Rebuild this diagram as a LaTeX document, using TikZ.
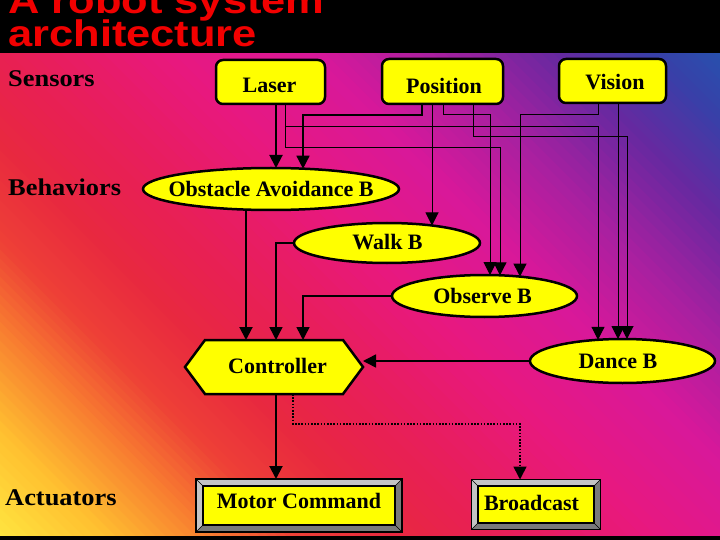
\documentclass[tikz,border=0pt]{standalone}
\usepackage{fontspec}
\usepackage{graphicx}
\setmainfont{Liberation Serif}
\newfontfamily\titlefamily{Liberation Sans}
\usetikzlibrary{arrows.meta,shapes.geometric}
\pgfdeclarelayer{background}
\pgfsetlayers{background,main}

\definecolor{g0}{HTML}{FFE640}
\definecolor{g1}{HTML}{FFC030}
\definecolor{g2}{HTML}{F88030}
\definecolor{g3}{HTML}{EE4036}
\definecolor{g4}{HTML}{E82840}
\definecolor{g5}{HTML}{E81E5A}
\definecolor{g6}{HTML}{E81880}
\definecolor{g7}{HTML}{D8189A}
\definecolor{g8}{HTML}{A820A0}
\definecolor{g9}{HTML}{6828A0}
\definecolor{g10}{HTML}{3840A8}
\definecolor{g11}{HTML}{2058B0}
\definecolor{boxyellow}{HTML}{FFFF00}
\definecolor{bevlight}{HTML}{C4C4C4}
\definecolor{bevdark}{HTML}{7A7A7A}
\definecolor{titlered}{HTML}{F20000}

\newcommand\nodefont{\bfseries\fontsize{22}{24}\selectfont}
\newcommand\ctext[3]{\raisebox{-#1pt}{\makebox[0pt]{\hspace*{#2pt}\hspace*{#2pt}#3}}}
\newcommand\lbl[1]{\scalebox{1.1}[1]{\bfseries\fontsize{24}{26}\selectfont #1}}
\newcommand\ttl[1]{\scalebox{1.175}[1]{\titlefamily\bfseries\fontsize{37}{40}\selectfont #1}}
\newcommand\bevelframe[2]{%
  \fill[bevlight] ([xshift=-#2pt,yshift=#2pt]#1.north west) rectangle ([xshift=#2pt,yshift=-#2pt]#1.south east);
  \fill[bevdark] ([xshift=#2pt,yshift=#2pt]#1.north east) -- ([xshift=#2pt,yshift=-#2pt]#1.south east) -- ([xshift=-#2pt,yshift=-#2pt]#1.south west) -- (#1.south west) -- (#1.south east) -- (#1.north east) -- cycle;
  \draw[line width=0.6pt] ([xshift=-#2pt,yshift=#2pt]#1.north west) -- (#1.north west)
     ([xshift=#2pt,yshift=#2pt]#1.north east) -- (#1.north east)
     ([xshift=#2pt,yshift=-#2pt]#1.south east) -- (#1.south east)
     ([xshift=-#2pt,yshift=-#2pt]#1.south west) -- (#1.south west);
  \draw[line width=1.5pt] ([xshift=-#2pt,yshift=#2pt]#1.north west) rectangle ([xshift=#2pt,yshift=-#2pt]#1.south east);
}

\tikzset{
  sensorbox/.style={rectangle, rounded corners=7pt, draw=black, line width=2.5pt, fill=boxyellow,
    font=\nodefont, inner sep=0pt, outer sep=0pt, text height=0pt, text depth=0pt},
  behav/.style={ellipse, draw=black, line width=2.5pt, fill=boxyellow,
    font=\nodefont, inner sep=0pt, outer sep=0pt, text height=0pt, text depth=0pt},
  ctrlnode/.style={rectangle, font=\nodefont, inner sep=0pt, outer sep=0pt, text height=0pt, text depth=0pt},
  actbox/.style={rectangle, draw=black, line width=1.2pt, fill=boxyellow,
    font=\nodefont, inner sep=0pt, outer sep=0pt, text height=0pt, text depth=0pt},
  layerlabel/.style={anchor=base west, inner sep=0pt, text=black},
  titletext/.style={anchor=base west, inner sep=0pt, text=titlered},
  conn/.style={draw=black, line width=1pt, -{Triangle[length=13pt,width=13pt]}},
  connmid/.style={conn, line width=1.5pt},
  connthick/.style={conn, line width=2pt},
  dotconn/.style={conn, line width=1.6pt, dash pattern=on 1.6pt off 1.6pt},
}

\begin{document}
\begin{tikzpicture}[x=1pt,y=-1pt]
\useasboundingbox (0,0) rectangle (720,540);

% background gradient
\begin{pgfonlayer}{background}
\begin{scope}
\clip (0,0) rectangle (720,540);
\foreach \ta/\tb/\ca/\cb in {0/110/g0/g1, 110/210/g1/g2, 210/300/g2/g3, 300/400/g3/g4, 400/520/g4/g5, 520/660/g5/g6, 660/800/g6/g7, 800/920/g7/g8, 920/1040/g8/g9, 1040/1140/g9/g10, 1140/1240/g10/g11}{
  \foreach \k in {0,...,9}{
    \pgfmathsetmacro\ua{\ta+(\tb-\ta)*\k/10}
    \pgfmathsetmacro\ub{\ta+(\tb-\ta)*(\k+1)/10+1}
    \pgfmathtruncatemacro\p{95-10*\k}
    \colorlet{stripc}{\ca!\p!\cb}
    \fill[stripc] (-100,{440-\ua}) -- (900,{1440-\ua}) -- (900,{1440-\ub}) -- (-100,{440-\ub}) -- cycle;
  }
}
\end{scope}
\fill[black] (0,0) rectangle (720,53);
\fill[black] (0,536) rectangle (720,540);
\end{pgfonlayer}

% title
\node[titletext] (title1) at (8,14) {\ttl{A robot system}};
\node[titletext] (title2) at (8,47) {\ttl{architecture}};

% layer labels
\node[layerlabel] (sensors) at (8,87) {\lbl{Sensors}};
\node[layerlabel] (behaviors) at (8,196) {\lbl{Behaviors}};
\node[layerlabel] (actuators) at (5,505) {\lbl{Actuators}};

% sensors
\node[sensorbox, minimum width=109pt, minimum height=44pt] (laser) at (270.5,82) {\ctext{11}{-1}{Laser}};
\node[sensorbox, minimum width=121pt, minimum height=45pt] (pos) at (442.5,81.5) {\ctext{12.5}{1.5}{Position}};
\node[sensorbox, minimum width=107pt, minimum height=44pt] (vis) at (612.5,81) {\ctext{9}{2.5}{Vision}};

% behaviors
\node[behav, minimum width=256pt, minimum height=42pt] (oa) at (271,189) {\ctext{8}{0}{Obstacle Avoidance B}};
\node[behav, minimum width=186pt, minimum height=40pt] (walk) at (387,243) {\ctext{6}{0.5}{Walk B}};
\node[behav, minimum width=185pt, minimum height=42pt] (obs) at (484.5,296) {\ctext{7}{-2}{Observe B}};
\node[behav, minimum width=185pt, minimum height=44pt] (dance) at (622.5,361) {\ctext{7}{-4.5}{Dance B}};

% controller
\node[ctrlnode, minimum width=178pt, minimum height=54pt] (ctrl) at (274,367) {\ctext{6}{3.5}{Controller}};

% actuators
\node[actbox, minimum width=192pt, minimum height=39pt] (motor) at (299,505.5) {\ctext{2.5}{0}{Motor Command}};
\node[actbox, minimum width=116pt, minimum height=37pt] (bc) at (536,504.5) {\ctext{5.5}{-4.5}{Broadcast}};

\begin{pgfonlayer}{background}
\filldraw[fill=boxyellow, draw=black, line width=2.5pt, line join=miter]
  (ctrl.west) -- ([xshift=20pt]ctrl.north west) -- ([xshift=-20pt]ctrl.north east) -- (ctrl.east)
  -- ([xshift=-20pt]ctrl.south east) -- ([xshift=20pt]ctrl.south west) -- cycle;
\bevelframe{motor}{7}
\bevelframe{bc}{6.5}
\end{pgfonlayer}

% sensor -> behavior connectors
\draw[connthick] ([xshift=5.5pt]laser.south) -- ([xshift=5pt]oa.north);
\draw[conn] ([xshift=14.5pt]laser.south) -- ++(0,44) -| ([xshift=15.5pt,yshift=-0.3pt]obs.north);
\draw[conn] ([xshift=14.5pt]laser.south) -- ++(0,23) -| ([xshift=-24.5pt,yshift=-0.8pt]dance.north);
\draw[connmid] ([xshift=-20.5pt]pos.south) -- ++(0,11) -| ([xshift=32pt,yshift=-0.7pt]oa.north);
\draw[conn] ([xshift=-10.5pt]pos.south) -- ([xshift=45pt,yshift=-2.5pt]walk.north);
\draw[conn] ([xshift=0.5pt]pos.south) -- ++(0,11) -| ([xshift=5.5pt]obs.north);
\draw[conn] ([xshift=30.5pt]pos.south) -- ++(0,33) -| ([xshift=4.5pt]dance.north);
\draw[conn] ([xshift=-14.5pt]vis.south) -- ++(0,12) -| ([xshift=35.5pt,yshift=-1.6pt]obs.north);
\draw[conn] ([xshift=5.5pt]vis.south) -- ([xshift=-4.5pt]dance.north);

% behavior -> controller
\draw[connthick] ([xshift=-25pt,yshift=0.4pt]oa.south) -- ([xshift=-28pt]ctrl.north);
\draw[connmid] (walk.west) -| ([xshift=2pt]ctrl.north);
\draw[connmid] (obs.west) -| ([xshift=29pt]ctrl.north);
\draw[connmid] (dance.west) -- (dance.west -| ctrl.east);

% controller -> actuators
\draw[connthick] ([xshift=2pt]ctrl.south) -- ([xshift=-23pt,yshift=7pt]motor.north);
\draw[dotconn] ([xshift=19pt]ctrl.south) -- ++(0,30) -| ([xshift=-16pt,yshift=6.5pt]bc.north);
\end{tikzpicture}
\end{document}
